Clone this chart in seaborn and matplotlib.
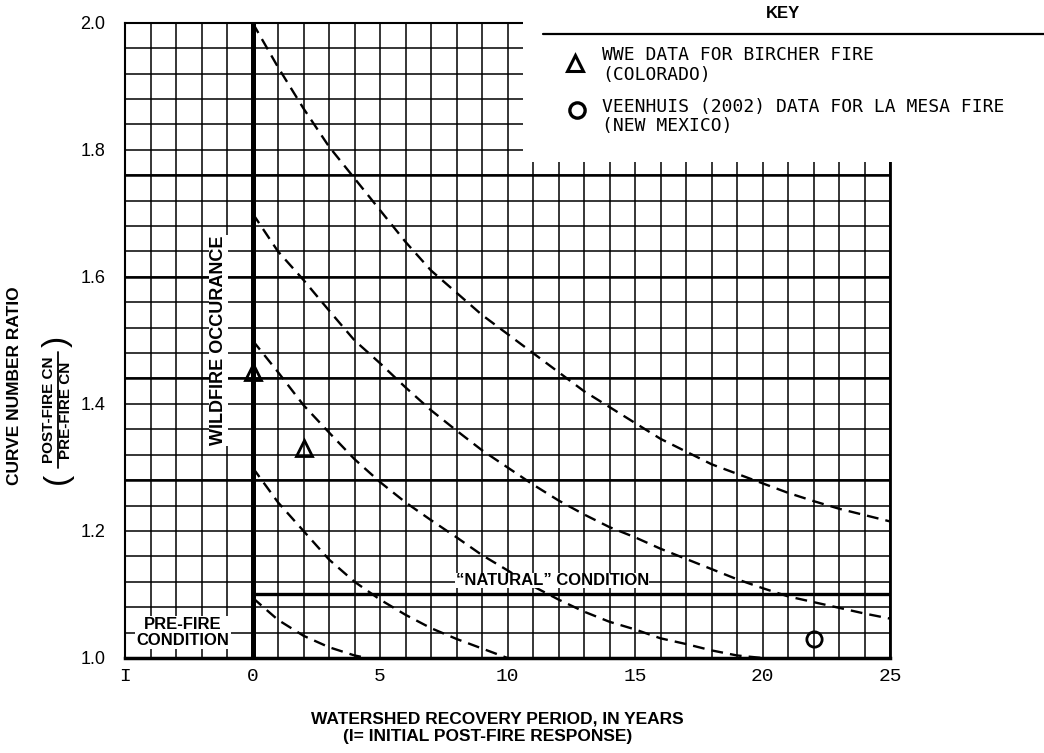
import numpy as np
import pandas as pd
import matplotlib
matplotlib.use("Agg")
import matplotlib.pyplot as plt
import seaborn as sns
from matplotlib.patches import Rectangle
from matplotlib.lines import Line2D

# ---------------- data ----------------
x_ticks = [-5, 0, 5, 10, 15, 20, 25]
x_tick_labels = ["I", "0", "5", "10", "15", "20", "25"]
y_ticks = [1.0, 1.2, 1.4, 1.6, 1.8, 2.0]
y_tick_labels = ["1.0", "1.2", "1.4", "1.6", "1.8", "2.0"]

years_a = list(range(0, 26))
ratio_a = [2.00, 1.93, 1.865, 1.805, 1.755, 1.705, 1.655, 1.61, 1.575, 1.54, 1.51,
           1.48, 1.45, 1.42, 1.395, 1.37, 1.345, 1.325, 1.305, 1.29, 1.275,
           1.26, 1.247, 1.235, 1.225, 1.215]
years_b = list(range(0, 26))
ratio_b = [1.70, 1.64, 1.595, 1.547, 1.50, 1.464, 1.426, 1.39, 1.358, 1.327, 1.30,
           1.273, 1.248, 1.226, 1.206, 1.19, 1.172, 1.156, 1.14, 1.124, 1.11,
           1.097, 1.088, 1.079, 1.07, 1.062]
years_c = list(range(0, 21))
ratio_c = [1.50, 1.45, 1.398, 1.355, 1.313, 1.277, 1.245, 1.217, 1.19, 1.162, 1.138,
           1.113, 1.092, 1.073, 1.057, 1.045, 1.031, 1.022, 1.012, 1.004, 1.0]
years_d = list(range(0, 11))
ratio_d = [1.30, 1.245, 1.20, 1.155, 1.12, 1.092, 1.068, 1.047, 1.03, 1.015, 1.0]
years_e = [0, 1, 2, 3, 4, 4.5]
ratio_e = [1.095, 1.06, 1.035, 1.017, 1.004, 1.0]

wwe_years = [0, 2]
wwe_ratio = [1.45, 1.33]
veenhuis_years = [22]
veenhuis_ratio = [1.03]

natural_ratio = 1.10
wildfire_year = 0

key_title = "KEY"
key_wwe = ["WWE DATA FOR BIRCHER FIRE", "(COLORADO)"]
key_veen = ["VEENHUIS (2002) DATA FOR LA MESA FIRE", "(NEW MEXICO)"]

# ---------------- style ----------------
sns.set_style("white")
plt.rcParams["font.family"] = ["Liberation Sans", "DejaVu Sans"]
plt.rcParams["lines.dashed_pattern"] = [5.0, 3.0]
for key in ["text.color", "axes.labelcolor", "xtick.color", "ytick.color",
            "axes.edgecolor"]:
    plt.rcParams[key] = "black"

W, H = 1044, 753
fig = plt.figure(figsize=(W / 100, H / 100), dpi=100)
fig.patch.set_facecolor("white")


def fx(px):
    return px / W


def fy(py):
    return 1 - py / H


ax = fig.add_axes([fx(125), fy(658), fx(890) - fx(125), fy(22.7) - fy(658)])
ax.set_xlim(-5, 25)
ax.set_ylim(1.0, 2.0)

# graph-paper grid
ax.set_xticks(np.arange(-5, 26, 1), minor=True)
ax.set_yticks(np.round(np.arange(1.0, 2.0001, 0.04), 2), minor=True)
ax.set_xticks(x_ticks)
ax.set_xticklabels(x_tick_labels)
ax.set_yticks(y_ticks)
ax.set_yticklabels(y_tick_labels)
ax.grid(which="both", color="black", lw=1.1)
ax.set_axisbelow(True)
for yy in [1.76, 1.60, 1.44, 1.28]:
    ax.axhline(yy, color="black", lw=1.8, zorder=1)

ax.tick_params(which="both", length=0)
ax.tick_params(axis="y", labelsize=13, pad=14)
ax.tick_params(axis="x", pad=7)
for lab in ax.get_xticklabels():
    lab.set_fontfamily("Liberation Mono")
    lab.set_fontsize(14)

for side, lw in [("bottom", 2.5), ("left", 1.5), ("top", 1.5), ("right", 2.0)]:
    ax.spines[side].set_color("black")
    ax.spines[side].set_linewidth(lw)

# wildfire occurrence line and natural condition line
ax.axvline(wildfire_year, color="black", lw=3.6, zorder=3)
ax.hlines(natural_ratio, wildfire_year, 25, color="black", lw=2.4, zorder=3)

# recovery curves
for xs, ys in [(years_a, ratio_a), (years_b, ratio_b), (years_c, ratio_c),
               (years_d, ratio_d), (years_e, ratio_e)]:
    sns.lineplot(x=xs, y=ys, ax=ax, color="black", lw=1.7, linestyle="--",
                 estimator=None, sort=False, zorder=3)

# observed data
sns.lineplot(x=wwe_years, y=wwe_ratio, ax=ax, color="black", linestyle="",
             marker="^", markersize=11, markerfacecolor="none",
             markeredgecolor="black", markeredgewidth=2, estimator=None, zorder=4)
sns.lineplot(x=veenhuis_years, y=veenhuis_ratio, ax=ax, color="black", linestyle="",
             marker="o", markersize=11, markerfacecolor="none",
             markeredgecolor="black", markeredgewidth=2, estimator=None, zorder=4)
ax.set_xlabel("")
ax.set_ylabel("")

# in-plot labels
ax.text(-1.33, 1.50, "WILDFIRE OCCURANCE", rotation=90, ha="center", va="center",
        fontsize=13, fontweight="bold", zorder=5,
        bbox=dict(fc="white", ec="none", pad=0.5))
ax.text(11.76, 1.122, "\u201cNATURAL\u201d CONDITION", ha="center", va="center",
        fontsize=12, fontweight="bold", zorder=5,
        bbox=dict(fc="white", ec="none", pad=0.3))
ax.text(-2.73, 1.04, "PRE-FIRE\nCONDITION", ha="center", va="center",
        fontsize=12, fontweight="bold", linespacing=1.05, zorder=5,
        bbox=dict(fc="white", ec="none", pad=1.0))

# axis titles
fig.text(fx(497), fy(719), "WATERSHED RECOVERY PERIOD, IN YEARS", ha="center",
         va="center", fontsize=12.5, fontweight="bold")
fig.text(fx(488), fy(737), "(I= INITIAL POST-FIRE RESPONSE)", ha="center",
         va="center", fontsize=12.5, fontweight="bold")
fig.text(fx(15), fy(386), "CURVE NUMBER RATIO", rotation=90, ha="center",
         va="center", fontsize=12.5, fontweight="bold")
fig.text(fx(49), fy(410), "POST-FIRE CN", rotation=90, ha="center", va="center",
         fontsize=11, fontweight="bold")
fig.text(fx(66), fy(410), "PRE-FIRE CN", rotation=90, ha="center", va="center",
         fontsize=11, fontweight="bold")
fig.add_artist(Line2D([fx(57.5), fx(57.5)], [fy(352), fy(468)],
                      transform=fig.transFigure, color="black", lw=1.3))
fig.text(fx(57.5), fy(478), "(", rotation=90, ha="center", va="center",
         fontsize=24)
fig.text(fx(57.5), fy(341), ")", rotation=90, ha="center", va="center",
         fontsize=24)

# key box
fig.add_artist(Rectangle((fx(523), fy(162)), 1 - fx(523), 162 / H,
                         transform=fig.transFigure, fc="white", ec="none", zorder=5))
fig.text(fx(783), fy(14), key_title, ha="center", va="center", fontsize=12,
         fontweight="bold", zorder=6)
fig.add_artist(Line2D([fx(543), 1.0], [fy(34), fy(34)], transform=fig.transFigure,
                      color="black", lw=1.6, zorder=6))
fig.add_artist(Line2D([fx(575)], [fy(63)], transform=fig.transFigure, marker="^",
                      markersize=11, markerfacecolor="none", markeredgecolor="black",
                      markeredgewidth=2.2, linestyle="", zorder=6))
fig.add_artist(Line2D([fx(577)], [fy(110)], transform=fig.transFigure, marker="o",
                      markersize=11, markerfacecolor="none", markeredgecolor="black",
                      markeredgewidth=2.4, linestyle="", zorder=6))
for txt, py in [(key_wwe[0], 55), (key_wwe[1], 75), (key_veen[0], 107), (key_veen[1], 126)]:
    fig.text(fx(602), fy(py), txt, ha="left", va="center", fontsize=13,
             family="DejaVu Sans Mono", zorder=6)

fig.savefig("out.png", dpi=100, facecolor="white")
